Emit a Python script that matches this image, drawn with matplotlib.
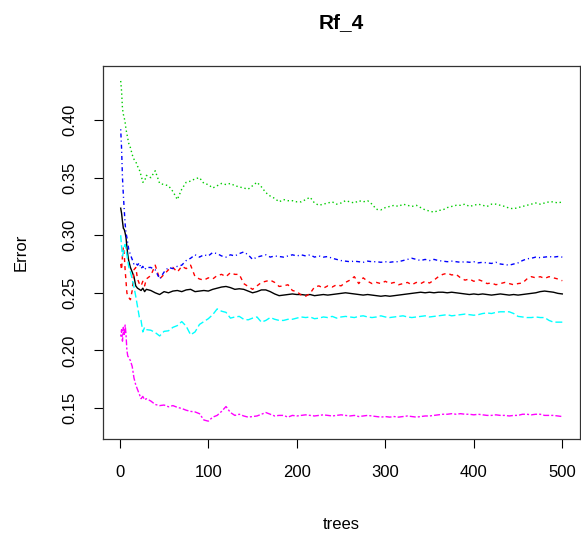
import numpy as np
import matplotlib.pyplot as plt

plt.rcParams['font.family'] = ['Liberation Sans', 'DejaVu Sans']
plt.rcParams['lines.scale_dashes'] = False

trees = ([1, 2, 3, 4, 5, 6, 7, 8, 9, 10, 12, 14, 16, 18, 20, 22, 24, 26, 28, 30]
         + list(range(35, 501, 5)))

# OOB error (black)
oob = [0.3235, 0.319, 0.312, 0.306, 0.305, 0.302, 0.298, 0.290, 0.283, 0.278,
       0.272, 0.268, 0.264, 0.256, 0.254, 0.253, 0.252, 0.254, 0.251, 0.253,
       0.252, 0.250, 0.2485, 0.251, 0.250, 0.2515, 0.252, 0.251, 0.2525, 0.253,
       0.251, 0.2515, 0.252, 0.2515, 0.253, 0.254, 0.255, 0.2555, 0.2545, 0.253,
       0.2535, 0.253, 0.2515, 0.250, 0.251, 0.2525, 0.2525, 0.251, 0.249, 0.2475,
       0.248, 0.2485, 0.249, 0.2485, 0.2485, 0.248, 0.2485, 0.2475, 0.248, 0.2485,
       0.248, 0.2485, 0.249, 0.2495, 0.250, 0.2495, 0.249, 0.2485, 0.248, 0.2485,
       0.248, 0.2475, 0.247, 0.2475, 0.247, 0.2475, 0.248, 0.2485, 0.249, 0.2495,
       0.250, 0.2505, 0.250, 0.2505, 0.250, 0.2505, 0.2505, 0.250, 0.2505, 0.250,
       0.2495, 0.249, 0.2485, 0.249, 0.2485, 0.249, 0.2485, 0.248, 0.2485, 0.249,
       0.2485, 0.248, 0.2485, 0.248, 0.2485, 0.249, 0.2495, 0.250, 0.251, 0.2515,
       0.251, 0.2505, 0.2495, 0.249]

# class errors
red = [0.275, 0.270, 0.282, 0.290, 0.283, 0.270, 0.260, 0.250, 0.247, 0.246,
       0.244, 0.252, 0.270, 0.272, 0.262, 0.258, 0.256, 0.260, 0.256, 0.262,
       0.265, 0.274, 0.262, 0.266, 0.270, 0.272, 0.268, 0.273, 0.271, 0.274,
       0.264, 0.262, 0.261, 0.263, 0.262, 0.265, 0.266, 0.264, 0.2675, 0.266,
       0.266, 0.258, 0.2555, 0.253, 0.256, 0.259, 0.260, 0.261, 0.259, 0.2555,
       0.256, 0.257, 0.252, 0.251, 0.248, 0.247, 0.2495, 0.255, 0.256, 0.254,
       0.256, 0.255, 0.257, 0.256, 0.259, 0.261, 0.264, 0.258, 0.263, 0.260,
       0.258, 0.259, 0.258, 0.260, 0.258, 0.259, 0.257, 0.258, 0.259, 0.257,
       0.259, 0.258, 0.260, 0.2585, 0.261, 0.264, 0.266, 0.267, 0.2655, 0.266,
       0.263, 0.261, 0.262, 0.260, 0.2615, 0.260, 0.258, 0.2585, 0.257, 0.258,
       0.259, 0.258, 0.257, 0.258, 0.2585, 0.262, 0.264, 0.263, 0.264, 0.2625,
       0.264, 0.263, 0.262, 0.2605]

green = [0.434, 0.425, 0.410, 0.405, 0.402, 0.398, 0.392, 0.388, 0.384, 0.380,
         0.376, 0.370, 0.366, 0.364, 0.360, 0.357, 0.352, 0.346, 0.347, 0.352,
         0.350, 0.356, 0.345, 0.344, 0.343, 0.338, 0.331, 0.340, 0.346, 0.347,
         0.349, 0.350, 0.345, 0.344, 0.341, 0.343, 0.345, 0.344, 0.345, 0.343,
         0.342, 0.341, 0.340, 0.343, 0.346, 0.342, 0.337, 0.334, 0.332, 0.329,
         0.331, 0.330, 0.330, 0.329, 0.329, 0.331, 0.333, 0.328, 0.326, 0.327,
         0.328, 0.329, 0.327, 0.328, 0.330, 0.329, 0.328, 0.330, 0.329, 0.330,
         0.327, 0.3225, 0.322, 0.324, 0.325, 0.326, 0.325, 0.327, 0.326, 0.325,
         0.326, 0.324, 0.322, 0.321, 0.320, 0.3215, 0.322, 0.324, 0.325, 0.326,
         0.326, 0.327, 0.325, 0.326, 0.327, 0.326, 0.325, 0.327, 0.327, 0.326,
         0.325, 0.3235, 0.323, 0.324, 0.325, 0.326, 0.327, 0.328, 0.327, 0.328,
         0.329, 0.329, 0.328, 0.329]

blue = [0.392, 0.375, 0.350, 0.335, 0.322, 0.310, 0.302, 0.298, 0.293, 0.288,
        0.283, 0.279, 0.275, 0.276, 0.274, 0.276, 0.271, 0.273, 0.270, 0.272,
        0.272, 0.270, 0.262, 0.268, 0.272, 0.271, 0.273, 0.274, 0.278, 0.280,
        0.283, 0.281, 0.283, 0.282, 0.285, 0.284, 0.282, 0.281, 0.283, 0.282,
        0.284, 0.2855, 0.283, 0.279, 0.281, 0.282, 0.283, 0.281, 0.282, 0.2815,
        0.281, 0.282, 0.283, 0.282, 0.283, 0.282, 0.283, 0.281, 0.282, 0.281,
        0.2815, 0.280, 0.279, 0.278, 0.2775, 0.277, 0.2775, 0.277, 0.2765, 0.2775,
        0.277, 0.277, 0.2765, 0.277, 0.2765, 0.277, 0.277, 0.278, 0.279, 0.280,
        0.279, 0.278, 0.279, 0.278, 0.279, 0.278, 0.2775, 0.277, 0.2775, 0.277,
        0.2765, 0.277, 0.2765, 0.277, 0.276, 0.2765, 0.276, 0.2755, 0.2765, 0.275,
        0.2745, 0.274, 0.275, 0.276, 0.278, 0.2795, 0.280, 0.281, 0.2805, 0.281,
        0.2815, 0.281, 0.2815, 0.281]

cyan = [0.300, 0.290, 0.282, 0.285, 0.290, 0.292, 0.288, 0.283, 0.278, 0.273,
        0.268, 0.262, 0.255, 0.247, 0.238, 0.229, 0.226, 0.216, 0.220, 0.218,
        0.2175, 0.2155, 0.2125, 0.2165, 0.217, 0.220, 0.2215, 0.225, 0.221, 0.2135,
        0.216, 0.2225, 0.225, 0.2275, 0.231, 0.236, 0.234, 0.233, 0.228, 0.229,
        0.2295, 0.227, 0.2265, 0.228, 0.229, 0.2245, 0.226, 0.2285, 0.227, 0.226,
        0.226, 0.227, 0.227, 0.228, 0.229, 0.2285, 0.229, 0.2275, 0.228, 0.229,
        0.2285, 0.2295, 0.228, 0.229, 0.2295, 0.229, 0.2285, 0.2295, 0.230, 0.229,
        0.2285, 0.229, 0.230, 0.229, 0.2285, 0.229, 0.2295, 0.230, 0.229, 0.2285,
        0.229, 0.2295, 0.230, 0.229, 0.2295, 0.230, 0.2305, 0.231, 0.230, 0.2305,
        0.231, 0.2315, 0.231, 0.2305, 0.231, 0.232, 0.2325, 0.232, 0.233, 0.2335,
        0.2335, 0.2335, 0.232, 0.2295, 0.229, 0.2285, 0.2285, 0.229, 0.2285, 0.2285,
        0.226, 0.2245, 0.2245, 0.2245]

magenta = [0.212, 0.218, 0.208, 0.220, 0.213, 0.222, 0.214, 0.200, 0.195, 0.194,
           0.191, 0.186, 0.176, 0.170, 0.166, 0.162, 0.158, 0.160, 0.157, 0.158,
           0.156, 0.153, 0.152, 0.1525, 0.151, 0.152, 0.1505, 0.1495, 0.148, 0.147,
           0.1465, 0.145, 0.1395, 0.1385, 0.142, 0.1435, 0.147, 0.1512, 0.146, 0.1435,
           0.1445, 0.143, 0.142, 0.1425, 0.143, 0.1445, 0.146, 0.1445, 0.143, 0.1435,
           0.1435, 0.142, 0.1435, 0.143, 0.1435, 0.144, 0.1435, 0.143, 0.1435, 0.144,
           0.1435, 0.143, 0.1435, 0.144, 0.1435, 0.143, 0.1435, 0.1425, 0.143, 0.1435,
           0.143, 0.1425, 0.142, 0.1425, 0.142, 0.1425, 0.142, 0.1425, 0.143, 0.1425,
           0.142, 0.1425, 0.143, 0.143, 0.1435, 0.144, 0.1445, 0.1445, 0.145, 0.1445,
           0.145, 0.1445, 0.1445, 0.144, 0.1445, 0.144, 0.1435, 0.1435, 0.144, 0.1435,
           0.1435, 0.143, 0.1435, 0.1435, 0.1445, 0.1445, 0.144, 0.1445, 0.1445, 0.1435,
           0.1435, 0.1435, 0.143, 0.1425]

series = [oob, red, green, blue, cyan, magenta]
colors = ['black', 'red', '#00CD00', 'blue', 'cyan', 'magenta']
# R lty 1..6 (solid, dashed, dotted, dotdash, longdash, twodash), lengths in points
styles = ['-', (0, (2.9, 2.9)), (0, (1.0, 2.0)), (0, (0.8, 2.2, 2.9, 2.2)),
          (0, (5.0, 2.2)), (0, (1.5, 1.5, 4.3, 1.5))]

fig = plt.figure(figsize=(5.81, 5.38), dpi=100)
ax = fig.add_axes([103 / 581, 99 / 538, 477 / 581, 373 / 538])

for vals, c, ls in zip(series, colors, styles):
    ax.plot(trees, vals, color=c, linestyle=ls, linewidth=1.0)

ax.set_xlim(-19, 520)
ax.set_ylim(0.123, 0.447)
ax.set_xticks([0, 100, 200, 300, 400, 500])
ax.set_yticks([0.15, 0.20, 0.25, 0.30, 0.35, 0.40])
ax.set_yticklabels(['0.15', '0.20', '0.25', '0.30', '0.35', '0.40'],
                   rotation=90, va='center')
ax.tick_params(direction='out', length=6.5, width=0.8, labelsize=12, pad=12)

for s in ax.spines.values():
    s.set_linewidth(0.9)
    s.set_color('#333333')

ax.set_xlabel('trees', fontsize=12, labelpad=27)
ax.set_ylabel('Error', fontsize=12, labelpad=24)
ax.set_title('Rf_4', fontsize=15, fontweight='bold', pad=27)

fig.savefig('out.png', dpi=100)
